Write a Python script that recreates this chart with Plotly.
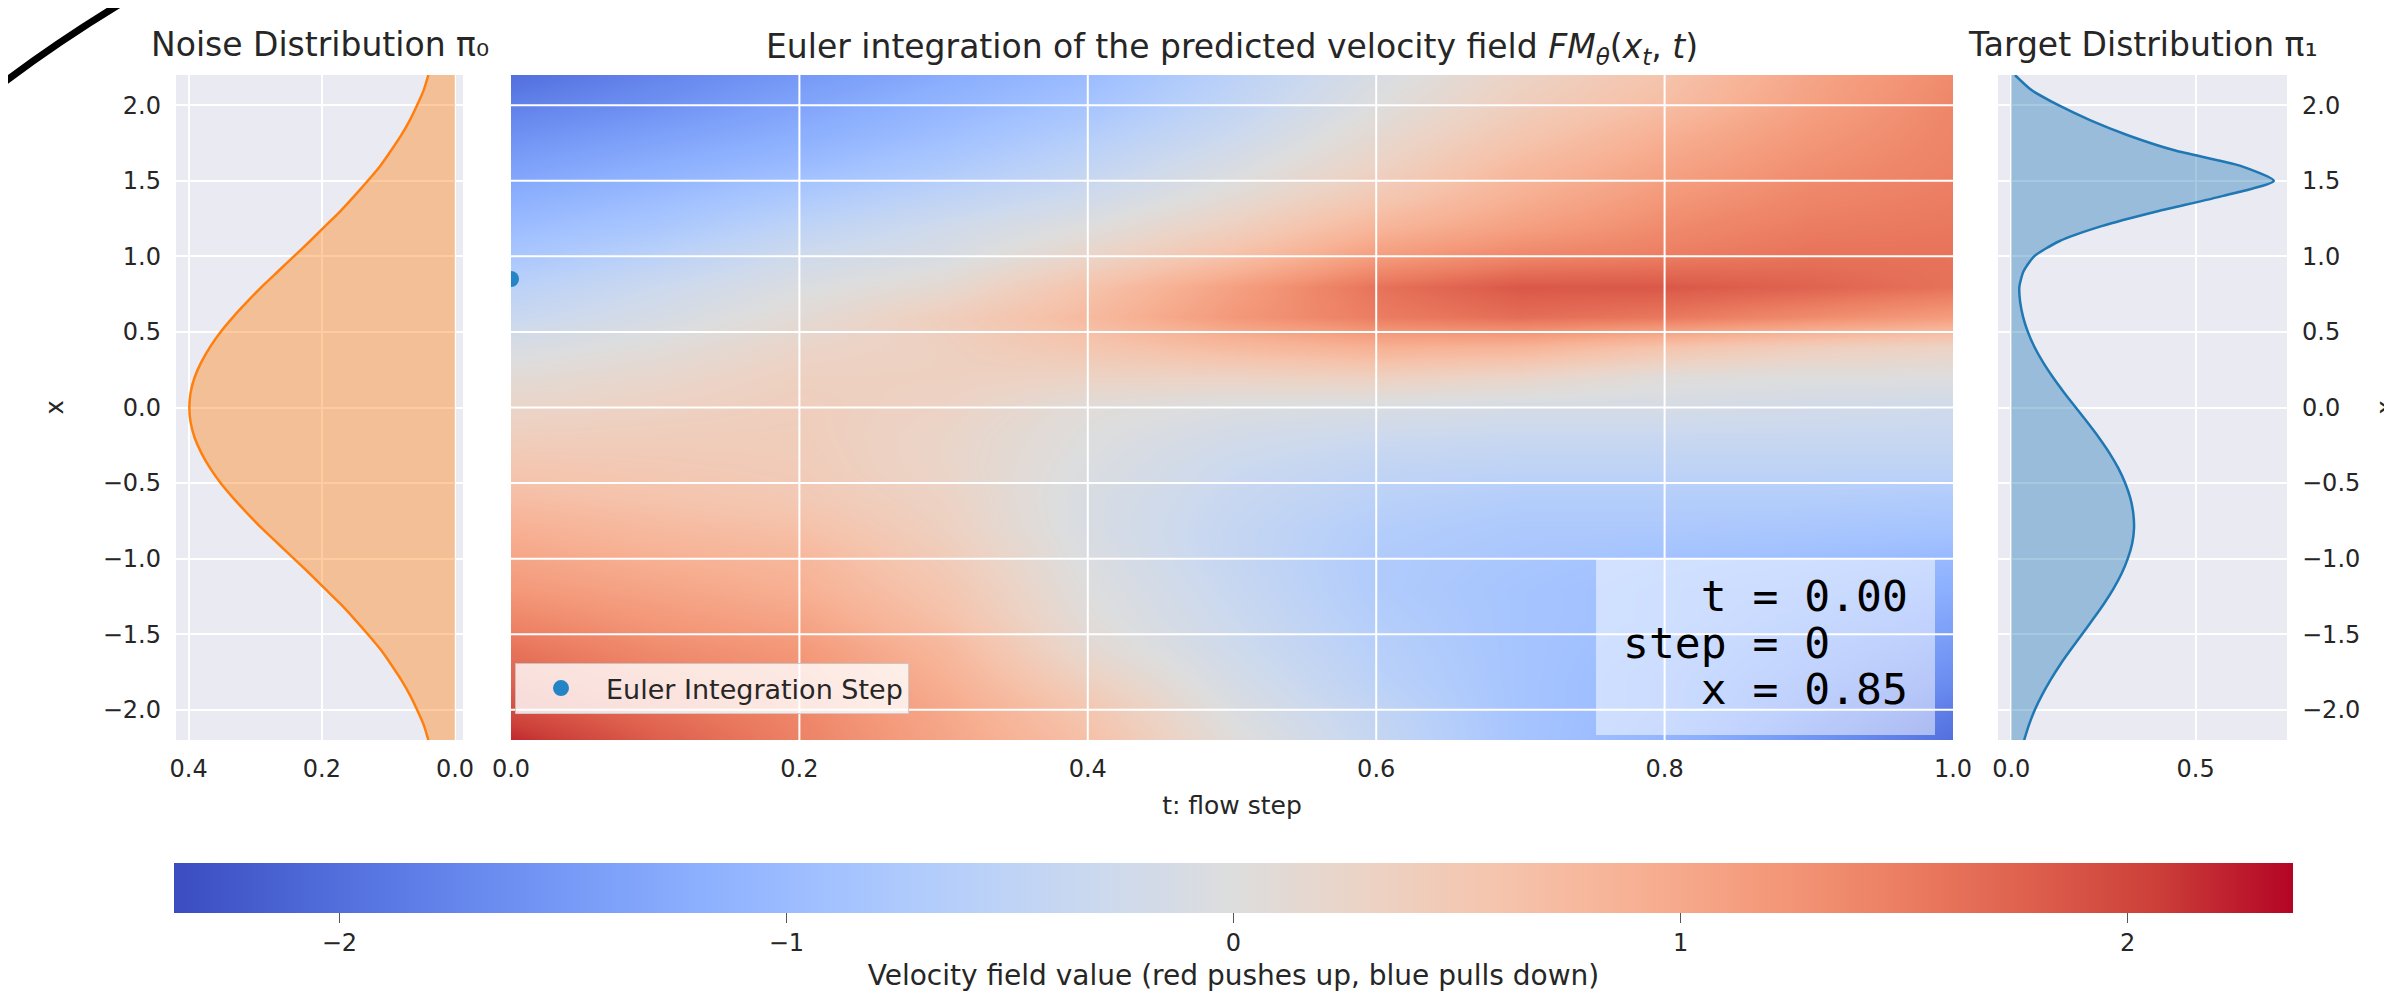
import plotly.graph_objects as go

W, H = 2392, 994

# ---------------- data ----------------
# vertical positions (x) for the two density curves
density_x = [-2.2, -2.1, -2.0, -1.9, -1.8, -1.7, -1.6, -1.5, -1.4, -1.3, -1.2, -1.1, -1.0,
             -0.9, -0.8, -0.7, -0.6, -0.5, -0.4, -0.3, -0.2, -0.1, 0.0, 0.1, 0.2, 0.3,
             0.4, 0.5, 0.6, 0.7, 0.8, 0.9, 1.0, 1.1, 1.2, 1.3, 1.4, 1.5, 1.6, 1.7, 1.8,
             1.9, 2.0, 2.1, 2.2]

noise_density = [0.040, 0.047, 0.057, 0.068, 0.081, 0.096, 0.112, 0.131, 0.151, 0.172,
                 0.195, 0.218, 0.242, 0.266, 0.290, 0.312, 0.333, 0.352, 0.368, 0.381,
                 0.391, 0.397, 0.399, 0.397, 0.391, 0.381, 0.368, 0.352, 0.333, 0.312,
                 0.290, 0.266, 0.242, 0.218, 0.195, 0.172, 0.151, 0.131, 0.112, 0.096,
                 0.081, 0.068, 0.057, 0.047, 0.040]

target_density = [0.035, 0.048, 0.064, 0.084, 0.107, 0.133, 0.162, 0.192, 0.222, 0.251,
                  0.277, 0.299, 0.316, 0.328, 0.333, 0.331, 0.323, 0.309, 0.290, 0.266,
                  0.238, 0.207, 0.175, 0.143, 0.113, 0.086, 0.063, 0.045, 0.032, 0.024,
                  0.022, 0.033, 0.062, 0.130, 0.245, 0.400, 0.575, 0.712, 0.620, 0.445,
                  0.318, 0.215, 0.128, 0.055, 0.010]

# velocity field grid: flow steps (columns) and x positions (rows)
flow_t = [0.0, 0.1, 0.2, 0.3, 0.4, 0.5, 0.6, 0.7, 0.8, 0.9, 1.0]
field_x = [-2.2, -2.0, -1.8, -1.6, -1.4, -1.2, -1.0, -0.8, -0.6, -0.4, -0.2, 0.0,
           0.2, 0.4, 0.6, 0.8, 1.0, 1.2, 1.4, 1.6, 1.8, 2.0, 2.2]
velocity = [
    [2.20, 1.80, 1.45, 1.05, 0.65, 0.05, -0.40, -0.85, -1.10, -1.55, -2.00],
    [1.95, 1.65, 1.40, 1.00, 0.55, -0.05, -0.45, -0.85, -1.05, -1.45, -1.85],
    [1.75, 1.50, 1.30, 0.90, 0.35, -0.15, -0.55, -0.85, -1.05, -1.35, -1.65],
    [1.60, 1.35, 1.20, 0.80, 0.15, -0.25, -0.60, -0.85, -1.00, -1.25, -1.50],
    [1.40, 1.20, 1.05, 0.65, 0.05, -0.30, -0.65, -0.85, -0.95, -1.15, -1.35],
    [1.20, 1.05, 0.90, 0.55, 0.00, -0.35, -0.70, -0.85, -0.95, -1.05, -1.20],
    [1.05, 0.90, 0.80, 0.45, -0.05, -0.40, -0.70, -0.80, -0.90, -0.95, -1.05],
    [0.90, 0.75, 0.65, 0.35, -0.10, -0.40, -0.65, -0.75, -0.75, -0.80, -0.85],
    [0.70, 0.60, 0.50, 0.30, -0.10, -0.35, -0.55, -0.65, -0.65, -0.65, -0.70],
    [0.55, 0.50, 0.45, 0.25, -0.05, -0.30, -0.45, -0.50, -0.50, -0.50, -0.50],
    [0.40, 0.42, 0.42, 0.25, 0.00, -0.20, -0.30, -0.35, -0.35, -0.35, -0.35],
    [0.25, 0.32, 0.40, 0.30, 0.05, -0.05, -0.10, -0.15, -0.15, -0.20, -0.25],
    [0.10, 0.20, 0.35, 0.35, 0.30, 0.30, 0.35, 0.25, 0.05, 0.00, 0.00],
    [-0.10, 0.05, 0.25, 0.35, 0.55, 0.75, 0.90, 0.85, 0.60, 0.40, 0.30],
    [-0.35, -0.15, 0.10, 0.40, 0.75, 1.20, 1.50, 1.65, 1.55, 1.35, 1.15],
    [-0.55, -0.30, -0.05, 0.15, 0.60, 1.10, 1.60, 1.85, 1.85, 1.75, 1.60],
    [-0.80, -0.55, -0.25, -0.10, 0.25, 0.65, 1.15, 1.40, 1.50, 1.60, 1.60],
    [-1.00, -0.80, -0.50, -0.25, 0.00, 0.35, 0.80, 1.10, 1.35, 1.50, 1.55],
    [-1.20, -1.00, -0.75, -0.50, -0.25, 0.10, 0.50, 0.90, 1.20, 1.40, 1.50],
    [-1.40, -1.20, -1.00, -0.75, -0.45, -0.10, 0.30, 0.75, 1.05, 1.30, 1.45],
    [-1.60, -1.40, -1.20, -0.95, -0.65, -0.30, 0.15, 0.55, 0.90, 1.20, 1.42],
    [-1.80, -1.60, -1.35, -1.10, -0.85, -0.45, 0.00, 0.40, 0.70, 1.10, 1.40],
    [-2.00, -1.75, -1.50, -1.25, -1.00, -0.55, -0.10, 0.30, 0.60, 1.05, 1.35],
]
v_limit = 2.37

# current Euler step
step_t = [0.0]
step_x = [0.85]
step_index = 0

# tick labels
noise_ticks = [0.4, 0.2, 0.0]
target_ticks = [0.0, 0.5]
cbar_ticks = [-2, -1, 0, 1, 2]

# matplotlib "coolwarm"
coolwarm = [
    [0.0, "rgb(59,76,192)"], [0.0625, "rgb(77,104,215)"], [0.125, "rgb(98,130,234)"],
    [0.1875, "rgb(119,154,247)"], [0.25, "rgb(141,176,254)"], [0.3125, "rgb(163,194,255)"],
    [0.375, "rgb(184,208,249)"], [0.4375, "rgb(204,217,238)"], [0.5, "rgb(221,221,221)"],
    [0.5625, "rgb(236,211,197)"], [0.625, "rgb(245,196,173)"], [0.6875, "rgb(247,177,148)"],
    [0.75, "rgb(244,154,123)"], [0.8125, "rgb(236,127,99)"], [0.875, "rgb(222,96,77)"],
    [0.9375, "rgb(203,62,56)"], [1.0, "rgb(180,4,38)"],
]

FONT = "DejaVu Sans"
TXT = "#262626"
BG = "#eaeaf2"

def px_x(p):
    return p / W

def px_y(p):
    return 1 - p / H

fig = go.Figure()

fig.add_trace(go.Scatter(
    x=noise_density, y=density_x, mode="lines",
    line=dict(color="#ff7f0e", width=2.5, shape="spline", smoothing=0.6),
    fill="tozerox", fillcolor="rgba(255,127,14,0.4)",
    xaxis="x", yaxis="y", showlegend=False, hoverinfo="skip"))

fig.add_trace(go.Heatmap(
    x=flow_t, y=field_x, z=velocity, zsmooth="best",
    colorscale=coolwarm, zmin=-v_limit, zmax=v_limit,
    xaxis="x2", yaxis="y2", hoverinfo="skip",
    colorbar=dict(
        orientation="h", x=px_x(1225.5), xanchor="center",
        y=px_y(855), yanchor="top", len=(2285 - 166) / W, lenmode="fraction",
        thickness=50, thicknessmode="pixels", outlinewidth=0, xpad=0, ypad=0,
        tickvals=cbar_ticks, ticks="outside", ticklen=10, tickcolor="#555555",
        tickfont=dict(size=24, family=FONT, color=TXT),
        title=dict(text="Velocity field value (red pushes up, blue pulls down)",
                   side="bottom", font=dict(size=28, family=FONT, color=TXT)),
    )))

fig.add_trace(go.Scatter(
    x=step_t, y=step_x, mode="markers", name="Euler Integration Step",
    marker=dict(color="#2484c6", size=16), cliponaxis=True,
    xaxis="x2", yaxis="y2", showlegend=True, hoverinfo="skip"))

fig.add_trace(go.Scatter(
    x=target_density, y=density_x, mode="lines",
    line=dict(color="#1f77b4", width=2.5, shape="spline", smoothing=0.6),
    fill="tozerox", fillcolor="rgba(31,119,180,0.4)",
    xaxis="x3", yaxis="y3", showlegend=False, hoverinfo="skip"))

tickfont = dict(size=24, family=FONT, color=TXT)
ydom = [px_y(732), px_y(67)]
common_y = dict(range=[-2.2, 2.2], dtick=0.5, tick0=0, tickformat=".1f",
                gridcolor="white", gridwidth=2, zeroline=False, showline=False,
                ticks="", tickfont=tickfont, domain=ydom, automargin=False)

fig.update_layout(
    width=W, height=H,
    margin=dict(l=0, r=0, t=0, b=0, autoexpand=False),
    paper_bgcolor="white", plot_bgcolor=BG,
    font=dict(family=FONT, color=TXT),
    xaxis=dict(domain=[px_x(168), px_x(455)], range=[0.419, -0.012],
               tickvals=noise_ticks, tickformat=".1f", gridcolor="white", gridwidth=2,
               zeroline=False, ticks="", tickfont=tickfont, ticklabelstandoff=12,
               anchor="y", automargin=False),
    yaxis=dict(**common_y, anchor="x", ticklabelstandoff=14,
               title=dict(text="x", standoff=32, font=dict(size=24))),
    xaxis2=dict(domain=[px_x(503), px_x(1945)], range=[0, 1], dtick=0.2, tick0=0,
                tickformat=".1f", showgrid=False, zeroline=False, ticks="",
                tickfont=tickfont, ticklabelstandoff=12, anchor="y2", automargin=False,
                title=dict(text="t: flow step", standoff=14, font=dict(size=25))),
    yaxis2=dict(range=[-2.2, 2.2], domain=ydom, showticklabels=False,
                showgrid=False, zeroline=False, anchor="x2", automargin=False),
    xaxis3=dict(domain=[px_x(1990), px_x(2279)], range=[-0.036, 0.748],
                tickvals=target_ticks, tickformat=".1f", gridcolor="white", gridwidth=2,
                zeroline=False, ticks="", tickfont=tickfont, ticklabelstandoff=12,
                anchor="y3", automargin=False),
    yaxis3=dict(**common_y, anchor="x3", side="right", ticklabelstandoff=14,
                title=dict(text="x", standoff=32, font=dict(size=24))),
    legend=dict(x=px_x(507), y=px_y(706), xanchor="left", yanchor="bottom",
                bgcolor="rgba(255,255,255,0.8)", bordercolor="rgba(200,200,200,0.9)",
                borderwidth=1, font=dict(size=27, family=FONT, color=TXT),
                itemwidth=80),
)

shapes = []
# info box behind text
shapes.append(dict(type="rect", xref="paper", yref="paper",
                   x0=px_x(1588), x1=px_x(1927), y0=px_y(727), y1=px_y(550),
                   fillcolor="rgba(255,255,255,0.5)", line=dict(width=0), layer="above"))
# grid lines over heatmap
for tv in [0.2, 0.4, 0.6, 0.8]:
    shapes.append(dict(type="line", xref="x2", yref="y2 domain", x0=tv, x1=tv, y0=0, y1=1,
                       line=dict(color="white", width=2), layer="above"))
for yv in [-2.0, -1.5, -1.0, -0.5, 0.0, 0.5, 1.0, 1.5, 2.0]:
    shapes.append(dict(type="line", xref="x2 domain", yref="y2", x0=0, x1=1, y0=yv, y1=yv,
                       line=dict(color="white", width=2), layer="above"))
# black arc artefact in the top-left corner
shapes.append(dict(type="path", xref="paper", yref="paper",
                   path=f"M {px_x(-5)},{px_y(75)} Q {px_x(51)},{px_y(33)} {px_x(112)},{px_y(-4)}",
                   line=dict(color="black", width=7), layer="above"))
fig.update_layout(shapes=shapes)

NB = "\u00a0"
ann = []
title_font = dict(size=33, family=FONT, color=TXT)
ann.append(dict(text="Noise Distribution π₀", xref="paper", yref="paper",
                x=px_x(311.5), y=px_y(37), xanchor="center", yanchor="middle",
                showarrow=False, font=title_font))
ann.append(dict(text="Euler integration of the predicted velocity field "
                     "<i>FM</i><sub><i>θ</i></sub>(<i>x</i><sub><i>t</i></sub>, <i>t</i>)",
                xref="paper", yref="paper", x=px_x(1224), y=px_y(40),
                xanchor="center", yanchor="middle", showarrow=False, font=title_font))
ann.append(dict(text="Target Distribution π₁", xref="paper", yref="paper",
                x=px_x(2134.5), y=px_y(37), xanchor="center", yanchor="middle",
                showarrow=False, font=title_font))

mono = dict(size=43, family="DejaVu Sans Mono", color="black")
lines = [f"{NB*3}t{NB}={NB}{step_t[0]:.2f}",
         f"step{NB}={NB}{step_index}",
         f"{NB*3}x{NB}={NB}{step_x[0]:.2f}"]
for txt, yc in zip(lines, [588, 635, 681]):
    ann.append(dict(text=txt, xref="paper", yref="paper", x=px_x(1613), y=px_y(yc),
                    xanchor="left", yanchor="middle", showarrow=False, font=mono))
fig.update_layout(annotations=ann)

fig.write_html("out.html")
